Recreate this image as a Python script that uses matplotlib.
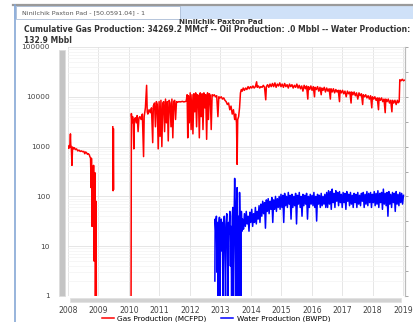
import matplotlib
matplotlib.use('Agg')
import matplotlib.pyplot as plt
import numpy as np
from matplotlib.patches import Rectangle
from matplotlib.lines import Line2D
from matplotlib.ticker import LogLocator, NullFormatter, FixedLocator

W, H = 413, 322

# ---- data ----
nan = np.nan
gas_t = [
    2008.00, 2008.02, 2008.04, 2008.06, 2008.08, 2008.09, 2008.11, 2008.13, 2008.15, 2008.18,
    2008.21, 2008.24, 2008.28, 2008.32, 2008.36, 2008.40, 2008.44, 2008.48, 2008.52, 2008.55,
    2008.58, 2008.61, 2008.64, 2008.67, 2008.70, 2008.72, 2008.74, 2008.76, 2008.77, 2008.79,
    2008.80, 2008.82, 2008.84, 2008.86, 2008.88, 2008.90, 2008.92, 2008.93, 2008.94,
    2009.47, 2009.48, 2009.49, 2009.50, 2009.51,
    2010.07, 2010.08, 2010.10, 2010.12, 2010.14, 2010.16, 2010.18, 2010.21, 2010.24, 2010.27,
    2010.30, 2010.33, 2010.36, 2010.40, 2010.44, 2010.48, 2010.50, 2010.54, 2010.58, 2010.60,
    2010.62, 2010.66, 2010.70, 2010.74, 2010.78, 2010.80, 2010.84, 2010.87, 2010.90, 2010.93,
    2010.96, 2010.99, 2011.02, 2011.05, 2011.08, 2011.11, 2011.14, 2011.17, 2011.20, 2011.23,
    2011.26, 2011.29, 2011.32, 2011.35, 2011.38, 2011.41, 2011.44, 2011.47, 2011.50, 2011.53,
    2011.56, 2011.60, 2011.64, 2011.68, 2011.72, 2011.76, 2011.80, 2011.84, 2011.88, 2011.91,
    2011.93, 2011.95, 2011.98, 2012.01, 2012.04, 2012.07, 2012.10, 2012.13, 2012.16, 2012.19,
    2012.22, 2012.25, 2012.28, 2012.31, 2012.34, 2012.37, 2012.40, 2012.43, 2012.46, 2012.49,
    2012.52, 2012.55, 2012.58, 2012.61, 2012.64, 2012.67, 2012.70, 2012.73, 2012.77, 2012.80,
    2012.84, 2012.88, 2012.92, 2012.95, 2012.99, 2013.03, 2013.07, 2013.11, 2013.15, 2013.19,
    2013.23, 2013.27, 2013.31, 2013.35, 2013.39, 2013.43, 2013.47, 2013.50, 2013.53, 2013.55,
    2013.57, 2013.60, 2013.63, 2013.66, 2013.69, 2013.72, 2013.75, 2013.79, 2013.83, 2013.87,
    2013.91, 2013.95, 2013.99, 2014.03, 2014.07, 2014.11, 2014.15, 2014.19, 2014.21, 2014.25,
    2014.29, 2014.33, 2014.37, 2014.41, 2014.45, 2014.49, 2014.51, 2014.55, 2014.59, 2014.63,
    2014.67, 2014.71, 2014.75, 2014.79, 2014.83, 2014.87, 2014.91, 2014.95, 2014.99, 2015.03,
    2015.07, 2015.11, 2015.15, 2015.19, 2015.23, 2015.27, 2015.31, 2015.35, 2015.39, 2015.43,
    2015.47, 2015.51, 2015.55, 2015.59, 2015.63, 2015.67, 2015.71, 2015.75, 2015.79, 2015.83,
    2015.87, 2015.89, 2015.93, 2015.97, 2016.01, 2016.05, 2016.09, 2016.11, 2016.15, 2016.19,
    2016.23, 2016.27, 2016.31, 2016.33, 2016.37, 2016.41, 2016.45, 2016.49, 2016.53, 2016.57,
    2016.61, 2016.63, 2016.67, 2016.71, 2016.75, 2016.79, 2016.83, 2016.87, 2016.91, 2016.93,
    2016.97, 2017.01, 2017.05, 2017.09, 2017.13, 2017.17, 2017.21, 2017.25, 2017.29, 2017.31,
    2017.35, 2017.39, 2017.43, 2017.47, 2017.51, 2017.55, 2017.59, 2017.63, 2017.67, 2017.69,
    2017.73, 2017.77, 2017.81, 2017.85, 2017.89, 2017.93, 2017.97, 2017.99, 2018.03, 2018.07,
    2018.11, 2018.15, 2018.19, 2018.21, 2018.25, 2018.29, 2018.33, 2018.37, 2018.41, 2018.43,
    2018.47, 2018.51, 2018.55, 2018.59, 2018.63, 2018.65, 2018.69, 2018.73, 2018.77, 2018.81,
    2018.84, 2018.87, 2018.89, 2018.93, 2018.97, 2019.01, 2019.04,
]
gas_v = [
    1000, 920, 1050, 950, 1800, 1100, 950, 420, 980, 900,
    950, 870, 900, 820, 850, 800, 820, 790, 800, 720,
    780, 750, 700, 720, 680, 620, 600, 150, 580, 25,
    400, 60, 420, 5, 300, 1, 80, 1, nan,
    2500, 130, 2300, 140, nan,
    1, 4600, 3000, 4000, 3200, 900, 3500, 3800, 3000, 4200,
    2000, 3800, 4000, 3500, 4500, 630, 4000, 6000, 17000, 5000,
    4500, 5500, 4800, 6000, 1200, 6500, 7500, 2500, 8000, 7000,
    900, 8000, 1600, 8500, 1000, 7500, 8000, 2000, 9000, 3000,
    8000, 1300, 8500, 7500, 2500, 9000, 1500, 8000, 8500, 3500,
    8000, 7800, 8000, 7900, 8000, 8100, 7900, 8000, 8200, 11000,
    1500, 10500, 3000, 12000, 2200, 11000, 1800, 11500, 5000, 12000,
    2500, 11000, 10500, 1500, 12000, 4000, 11500, 2200, 12000, 6000,
    11000, 1400, 12000, 3500, 11500, 10500, 2200, 11000, 10500, 11000,
    10000, 10500, 4000, 10000, 9500, 10000, 9000, 9500, 8500, 8000,
    7000, 7500, 5500, 6500, 4500, 5500, 3500, 4500, 3000, 440,
    3500, 4000, 6000, 12000, 14000, 13000, 15000, 13500, 15000, 14000,
    16000, 14500, 16000, 15000, 16500, 15000, 16000, 20000, 15500, 16500,
    15000, 16000, 15500, 17000, 15500, 8700, 16000, 17500, 15500, 18000,
    16000, 18500, 16000, 19000, 15500, 18000, 16500, 19000, 16000, 18000,
    15500, 18500, 16000, 17500, 15000, 18000, 16000, 17500, 15000, 17000,
    15500, 18000, 15000, 17000, 14500, 16500, 13000, 17000, 14500, 16500,
    9000, 16000, 14000, 16500, 13500, 16000, 10000, 15500, 14000, 16000,
    13000, 15500, 11000, 15000, 13500, 15500, 12500, 15000, 13000, 14500,
    9000, 14500, 12500, 14500, 12000, 14000, 12500, 13500, 8000, 13500,
    12000, 13500, 11500, 13000, 10000, 13000, 11500, 12500, 7500, 12500,
    11000, 12500, 10500, 12000, 9000, 12000, 10500, 11500, 7000, 11000,
    10000, 11000, 9500, 10500, 9000, 10500, 6000, 10000, 9000, 10000,
    8500, 9500, 5500, 9500, 8500, 9500, 8000, 9000, 4800, 9000,
    8000, 9000, 7500, 8500, 5000, 8500, 7500, 8500, 7000, 8500,
    7600, 8000, 22000, 21000, 22500, 21000, 21500,
]

water_t = [
    2012.82, 2012.83, 2012.85, 2012.87, 2012.89, 2012.91, 2012.93, 2012.95, 2012.97, 2012.99,
    2013.01, 2013.03, 2013.05, 2013.07, 2013.09, 2013.11, 2013.13, 2013.15, 2013.17, 2013.19,
    2013.21, 2013.23, 2013.25, 2013.27, 2013.29, 2013.31, 2013.33, 2013.35, 2013.37, 2013.39,
    2013.41, 2013.43, 2013.45, 2013.47, 2013.49, 2013.51, 2013.53, 2013.55, 2013.57, 2013.59,
    2013.61, 2013.63, 2013.65, 2013.67, 2013.69, 2013.71, 2013.73,
    2013.76, 2013.79, 2013.82, 2013.85, 2013.88, 2013.91, 2013.94, 2013.97, 2014.00, 2014.03,
    2014.06, 2014.09, 2014.12, 2014.15, 2014.18, 2014.21, 2014.24, 2014.27, 2014.30,
    2014.33, 2014.36, 2014.39, 2014.42, 2014.45, 2014.48, 2014.51, 2014.54, 2014.57, 2014.60,
    2014.63, 2014.66, 2014.69, 2014.72, 2014.75, 2014.78, 2014.81, 2014.84, 2014.87, 2014.90,
    2014.93, 2014.96, 2014.99, 2015.02, 2015.05, 2015.08, 2015.11, 2015.14, 2015.17, 2015.20,
    2015.23, 2015.26, 2015.29, 2015.32, 2015.35, 2015.38, 2015.41, 2015.44, 2015.47, 2015.50,
    2015.53, 2015.56, 2015.59, 2015.62, 2015.65, 2015.68, 2015.71, 2015.74, 2015.77, 2015.80,
    2015.83, 2015.86, 2015.89, 2015.92, 2015.95, 2015.98, 2016.01, 2016.04, 2016.07, 2016.10,
    2016.13, 2016.16, 2016.19, 2016.22, 2016.25, 2016.28, 2016.31, 2016.34, 2016.37, 2016.40,
    2016.43, 2016.46, 2016.49, 2016.52, 2016.55, 2016.58, 2016.61, 2016.64, 2016.67, 2016.70,
    2016.73, 2016.76, 2016.79, 2016.82, 2016.85, 2016.88, 2016.91, 2016.94, 2016.97, 2017.00,
    2017.03, 2017.06, 2017.09, 2017.12, 2017.15, 2017.18, 2017.21, 2017.24, 2017.27, 2017.30,
    2017.33, 2017.36, 2017.39, 2017.42, 2017.45, 2017.48, 2017.51, 2017.54, 2017.57, 2017.60,
    2017.63, 2017.66, 2017.69, 2017.72, 2017.75, 2017.78, 2017.81, 2017.84, 2017.87, 2017.90,
    2017.93, 2017.96, 2017.99, 2018.02, 2018.05, 2018.08, 2018.11, 2018.14, 2018.17, 2018.20,
    2018.23, 2018.26, 2018.29, 2018.32, 2018.35, 2018.38, 2018.41, 2018.44, 2018.47, 2018.50,
    2018.53, 2018.56, 2018.59, 2018.62, 2018.65, 2018.68, 2018.71, 2018.74, 2018.77, 2018.80,
    2018.83, 2018.86, 2018.89, 2018.92, 2018.95, 2018.98, 2019.01,
]
water_v = [
    2, 35, 20, 40, 3, 30, 1, 25, 38, 1,
    20, 35, 8, 30, 1, 22, 40, 12, 1, 28,
    45, 15, 1, 30, 18, 50, 4, 25, 1, 40,
    60, 1, 30, 230, 20, 1, 70, 150, 1, 40,
    1, 120, 25, 1, 50, 20, 35,
    22, 45, 25, 50, 28, 40, 20, 48, 30, 55,
    25, 45, 30, 60, 28, 50, 35, 65, 30,
    70, 40, 80, 45, 75, 23, 85, 50, 90, 45,
    80, 55, 95, 30, 85, 55, 100, 50, 90, 60,
    100, 55, 110, 60, 105, 30, 115, 65, 100, 60,
    120, 70, 105, 35, 110, 60, 100, 65, 115, 28,
    105, 70, 120, 60, 100, 40, 110, 65, 105, 70,
    115, 35, 100, 60, 110, 70, 105, 65, 120, 60,
    100, 32, 110, 70, 105, 60, 115, 65, 100, 70,
    110, 60, 120, 60, 130, 70, 125, 55, 140, 75,
    115, 60, 130, 80, 120, 65, 125, 75, 110, 60,
    120, 75, 115, 55, 125, 80, 110, 65, 120, 70,
    105, 60, 115, 75, 110, 60, 120, 70, 105, 65,
    115, 80, 120, 60, 110, 70, 125, 65, 115, 75,
    120, 60, 110, 75, 125, 65, 115, 70, 130, 60,
    115, 75, 120, 55, 140, 70, 115, 65, 120, 40,
    125, 70, 110, 60, 120, 75, 115, 50, 125, 70,
    110, 65, 120, 75, 115, 70, 105,
]

year_ticks = list(range(2008, 2020))
decade_ticks = [1, 10, 100, 1000, 10000, 100000]
decade_labels = ['1', '10', '100', '1000', '10000', '100000']

title = 'Ninilchik Paxton Pad'
subtitle = ('Cumulative Gas Production: 34269.2 MMcf -- Oil Production: .0 Mbbl '
            '-- Water Production:\n132.9 Mbbl')
tab_label = 'Ninilchik Paxton Pad - [50.0591.04] - 1'


def fx(x):
    return x / W


def fy(y):
    return 1 - y / H


fig = plt.figure(figsize=(W / 100, H / 100), dpi=100)
fig.patch.set_facecolor('white')

# window chrome
fig.patches.append(Rectangle((fx(14), fy(19)), fx(W - 14), 14 / H, transform=fig.transFigure,
                             facecolor='#cfe1f8', edgecolor='none', zorder=0))
fig.patches.append(Rectangle((fx(16), fy(19)), fx(164), 13 / H, transform=fig.transFigure,
                             facecolor='white', edgecolor='#a9bcd6', linewidth=0.6, zorder=1))
fig.lines.append(Line2D([fx(13), 1], [fy(5), fy(5)], transform=fig.transFigure,
                        color='#9a9a9a', linewidth=1.6))
fig.lines.append(Line2D([fx(15), fx(15)], [fy(5), 0], transform=fig.transFigure,
                        color='#86a8d6', linewidth=1.2))
fig.text(fx(22), fy(13), tab_label, fontsize=4.6, color='#555555', va='center', ha='left')

fig.text(fx(221), fy(22), title, fontsize=5.2, fontweight='bold', color='#333333',
         ha='center', va='center')
fig.text(fx(24), fy(25.5), subtitle, fontsize=5.5, fontweight='bold', color='#333333',
         ha='left', va='top', linespacing=1.2)

# main plot
ax = fig.add_axes([fx(68), fy(296), fx(337), (296 - 47) / H])
ax.set_yscale('log')
g_line, = ax.plot(gas_t, gas_v, color='#ff0000', linewidth=1.1, label='Gas Production (MCFPD)',
                  zorder=3)
w_line, = ax.plot(water_t, water_v, color='#0000ff', linewidth=1.1,
                  label='Water Production (BWPD)', zorder=3)

ax.set_xlim(2008, 2019.06)
ax.set_ylim(1, 100000)
ax.xaxis.set_major_locator(FixedLocator(year_ticks))
ax.set_xticklabels([str(y) for y in year_ticks])
ax.yaxis.set_major_locator(FixedLocator(decade_ticks))
ax.set_yticklabels(decade_labels)
ax.yaxis.set_minor_locator(LogLocator(base=10, subs=np.arange(2, 10)))
ax.yaxis.set_minor_formatter(NullFormatter())
ax.tick_params(axis='x', length=0, pad=7.5, labelsize=5.6, labelcolor='#444444')
ax.tick_params(axis='y', which='major', length=0, pad=13, labelsize=5.3, labelcolor='#444444')
ax.tick_params(axis='y', which='minor', length=0)
ax.grid(True, which='major', color='#e2e2e2', linewidth=0.6)
ax.grid(True, which='minor', axis='y', color='#f3f3f3', linewidth=0.5)
for s in ['top', 'left', 'bottom']:
    ax.spines[s].set_visible(False)
ax.spines['right'].set_color('#bbbbbb')
ax.spines['right'].set_linewidth(0.8)

# right-hand tick marks
ax2 = ax.twinx()
ax2.set_ylim(0, 10)
ax2.set_yticks(range(0, 11))
ax2.set_yticklabels([])
ax2.tick_params(axis='y', length=2.5, width=0.6, color='#999999')
for s in ['top', 'left', 'bottom']:
    ax2.spines[s].set_visible(False)
ax2.spines['right'].set_color('#bbbbbb')

# scrollbars
fig.patches.append(Rectangle((fx(59), fy(296)), fx(6), (296 - 50) / H, transform=fig.transFigure,
                             facecolor='#c4c4c4', edgecolor='#dddddd', linewidth=0.6))
fig.patches.append(Rectangle((fx(70), fy(302)), fx(331), 4 / H, transform=fig.transFigure,
                             facecolor='#d2d2d2', edgecolor='#e2e2e2', linewidth=0.6))

fig.legend(handles=[g_line, w_line], loc='center', bbox_to_anchor=(fx(216), fy(318.5)),
           ncol=2, frameon=False, fontsize=5.3, handlelength=1.6, handletextpad=0.5,
           columnspacing=2.0, borderpad=0)

fig.savefig('out.png', dpi=100)
